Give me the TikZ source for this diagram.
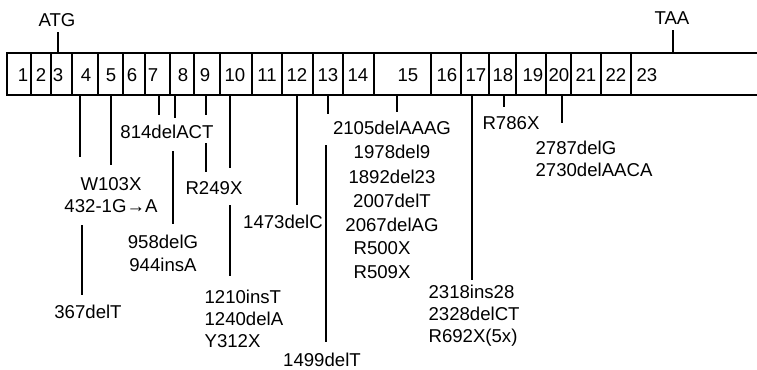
\documentclass[tikz,border=0pt]{standalone}
\usepackage{fontspec}
\setmainfont{Liberation Sans}

\begin{document}
\begin{tikzpicture}[
    x=0.5pt, y=-0.5pt,
    line width=0.6pt,
    num/.style={font=\fontsize{9.3}{11}\selectfont, inner sep=0pt},
    mut/.style={font=\fontsize{9.3}{11}\selectfont, inner sep=0pt, align=center},
    mutl/.style={mut, align=left, anchor=west},
    mline/.style={shorten >=#1},
    mline/.default=2.5pt
]
\useasboundingbox (0,0) rectangle (757,370);

% exon bar
\draw (757,53) -- (7,53) -- (7,95) -- (757,95);
\foreach \x in {31,51,72,98,123,145,170,194,220,252,282,313,343,374,431,461,489,516,546,571,601,631}
    \draw (\x,53) -- (\x,95);
\foreach \n/\x in {1/23,2/41,3/58,4/86,5/111,6/132,7/153,8/183,9/205,10/235,11/267,12/297,
                   13/328,14/358,15/408,16/447,17/476,18/503,19/533,20/559,21/586,22/616,23/647}
    \node[num] (e\n) at (\x,75) {\n};

% start and stop codons
\node[num] (atg) at (57,20) {ATG};
\node[num] (taa) at (672,18) {TAA};
\coordinate (tatg) at (58,53);
\coordinate (ttaa) at (673,53);
\draw[mline] (tatg) -- (tatg |- atg.south);
\draw[mline] (ttaa) -- (ttaa |- taa.south);

% mutation labels
\node[mut] (w103) at (111,195) {W103X\\432-1G→A};
\node[mut] (d367) at (88,312) {367delT};
\node[mut] (d814) at (167,132) {814delACT};
\node[mut, font=\fontsize{9.3}{11.5}\selectfont] (d958) at (163,253.5) {958delG\\944insA};
\node[mut] (r249) at (214,188) {R249X};
\node[mutl] (i1210) at (204,318.5) {1210insT\\1240delA\\Y312X};
\node[mut] (d1473) at (283,222) {1473delC};
\node[mut] (d1499) at (322,360) {1499delT};
\node[mut, font=\fontsize{9.3}{12.1}\selectfont] (d2105) at (392,176.5) {2105delAAAG\\1978del9\\1892del23\\2007delT\\2067delAG};
\node[mutl, font=\fontsize{9.3}{12}\selectfont] (r500) at (353,260) {R500X\\R509X};
\node[mutl] (i2318) at (428,315.5) {2318ins28\\2328delCT\\R692X(5x)};
\node[mut] (r786) at (511,123) {R786X};
\node[mutl] (d2787) at (535,159) {2787delG\\2730delAACA};

% connectors from the exons
\coordinate (m4) at (80,95);
\coordinate (m5) at (111,95);
\coordinate (m7) at (159,95);
\coordinate (m8) at (175,95);
\coordinate (m9) at (206,95);
\coordinate (m10) at (230,95);
\coordinate (m12) at (297,95);
\coordinate (m13) at (328,95);
\coordinate (m15) at (397,95);
\coordinate (m17) at (472,95);
\coordinate (m18) at (504,95);
\coordinate (m20) at (562,95);
\draw[mline=10pt] (m4) -- (m4 |- w103.north);
\draw[mline=6pt] (m5) -- (m5 |- w103.north);
\draw[mline=5pt] (m7) -- (m7 |- d814.north);
\draw[mline=3.5pt] (m8) -- (m8 |- d814.north);
\draw[mline=5pt] (m9) -- (m9 |- d814.north);
\draw[mline=6.5pt] (m10) -- (m10 |- r249.north);
\draw[mline=5pt] (m12) -- (m12 |- d1473.north);
\draw[mline=3.5pt] (m13) -- (m13 |- d2105.north);
\draw[mline=4.5pt] (m15) -- (m15 |- d2105.north);
\draw[mline=2pt] (m17) -- (m17 |- i2318.north);
\draw[mline=4.5pt] (m18) -- (m18 |- r786.north);
\draw[mline=9pt] (m20) -- (m20 |- d2787.north);

% lines continued below a label
\coordinate (c4) at (82,225);
\coordinate (c8) at (173,151);
\coordinate (c9) at (206,143);
\coordinate (c10) at (230,205);
\coordinate (c13) at (326,145);
\draw[mline=5pt] (c4) -- (c4 |- d367.north);
\draw[mline=5.5pt] (c8) -- (c8 |- d958.north);
\draw[mline=4.5pt] (c9) -- (c9 |- r249.north);
\draw[mline=6.5pt] (c10) -- (c10 |- i1210.north);
\draw[mline=5.5pt] (c13) -- (c13 |- d1499.north);
\end{tikzpicture}
\end{document}
